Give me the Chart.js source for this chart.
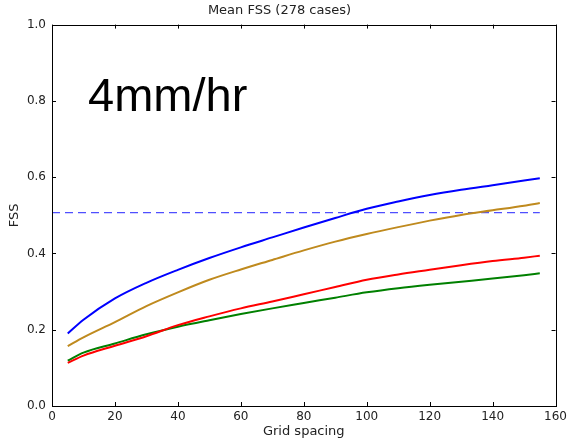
<!DOCTYPE html>
<html>
<head>
<meta charset="utf-8">
<script src="https://cdn.jsdelivr.net/npm/chart.js@4"></script>
<style>
  html, body { margin: 0; padding: 0; background: #fff; }
  #wrap { width: 571px; height: 439px; }
</style>
</head>
<body>
<div id="wrap"><canvas id="chart" width="571" height="439"></canvas></div>
<script>
// grid spacing (x) and mean FSS per curve
const spacing = [5, 10, 20, 30, 40, 50, 60, 70, 80, 90, 100, 110, 120, 130, 140, 150, 155];
const blueFss  = [0.190, 0.226, 0.282, 0.323, 0.357, 0.388, 0.416, 0.442, 0.468, 0.493, 0.517, 0.536, 0.553, 0.567, 0.579, 0.591, 0.597];
const goldFss  = [0.157, 0.180, 0.220, 0.262, 0.298, 0.331, 0.358, 0.383, 0.408, 0.431, 0.451, 0.469, 0.486, 0.501, 0.513, 0.525, 0.532];
const redFss   = [0.113, 0.132, 0.158, 0.183, 0.212, 0.235, 0.256, 0.274, 0.293, 0.312, 0.331, 0.345, 0.357, 0.369, 0.380, 0.389, 0.394];
const greenFss = [0.119, 0.140, 0.164, 0.188, 0.208, 0.225, 0.241, 0.256, 0.270, 0.284, 0.298, 0.309, 0.318, 0.326, 0.334, 0.343, 0.348];
const refX = [0, 155];
const refLevel = 0.507;
const xTicks = [0, 20, 40, 60, 80, 100, 120, 140, 160];
const yTicks = [0, 0.2, 0.4, 0.6, 0.8, 1.0];

function pts(ys) {
    return spacing.map((x, i) => ({ x: x, y: ys[i] }));
}

const font = { family: 'DejaVu Sans', size: 12 };
const titleFont = { family: 'DejaVu Sans', size: 13 };

// frame, inward ticks and the "4mm/hr" label
const framePlugin = {
    id: 'frame',
    afterDatasetsDraw(chart) {
        const ctx = chart.ctx;
        const a = chart.chartArea;
        const xs = chart.scales.x, ys = chart.scales.y;
        ctx.save();
        ctx.strokeStyle = '#000';
        ctx.lineWidth = 1;
        ctx.strokeRect(Math.round(a.left) + 0.5, Math.round(a.top) + 0.5,
                       Math.round(a.right - a.left), Math.round(a.bottom - a.top));
        const len = 4;
        xTicks.forEach(v => {
            const px = Math.round(xs.getPixelForValue(v)) + 0.5;
            ctx.beginPath();
            ctx.moveTo(px, a.bottom); ctx.lineTo(px, a.bottom - len);
            ctx.moveTo(px, a.top); ctx.lineTo(px, a.top + len);
            ctx.stroke();
        });
        yTicks.forEach(v => {
            const py = Math.round(ys.getPixelForValue(v)) + 0.5;
            ctx.beginPath();
            ctx.moveTo(a.left, py); ctx.lineTo(a.left + len, py);
            ctx.moveTo(a.right, py); ctx.lineTo(a.right - len, py);
            ctx.stroke();
        });
        ctx.fillStyle = '#000';
        ctx.font = '47px "Liberation Sans"';
        ctx.textBaseline = 'alphabetic';
        ctx.fillText('4mm/hr', a.left + 36, a.top + 86);
        ctx.restore();
    }
};

const curve = { borderWidth: 2, pointRadius: 0, cubicInterpolationMode: 'monotone' };

new Chart(document.getElementById('chart').getContext('2d'), {
    type: 'line',
    data: {
        datasets: [
            Object.assign({ data: pts(blueFss), borderColor: '#0000ff' }, curve),
            Object.assign({ data: pts(goldFss), borderColor: '#bf8a1e' }, curve),
            Object.assign({ data: pts(redFss), borderColor: '#ff0000' }, curve),
            Object.assign({ data: pts(greenFss), borderColor: '#008000' }, curve),
            {
                data: refX.map(x => ({ x: x, y: refLevel })),
                borderColor: 'rgba(60, 60, 255, 0.9)',
                borderWidth: 1.2,
                borderDash: [8, 5],
                pointRadius: 0
            }
        ]
    },
    options: {
        responsive: false,
        animation: false,
        layout: { padding: { left: 0, right: 12, top: 0, bottom: 0 } },
        plugins: {
            legend: { display: false },
            tooltip: { enabled: false },
            title: {
                display: true,
                text: 'Mean FSS (278 cases)',
                color: '#222',
                font: { family: 'DejaVu Sans', size: 13, weight: 'normal' },
                padding: { top: 3, bottom: 6 }
            }
        },
        scales: {
            x: {
                type: 'linear',
                min: 0,
                max: 160,
                afterBuildTicks: s => { s.ticks = xTicks.map(v => ({ value: v })); },
                afterFit: s => { s.height = 33; },
                grid: { display: false, drawTicks: false },
                border: { display: false },
                ticks: { color: '#222', font: font, padding: 4, maxRotation: 0 },
                title: { display: true, text: 'Grid spacing', color: '#222', font: titleFont, padding: 0 }
            },
            y: {
                min: 0,
                max: 1,
                afterBuildTicks: s => { s.ticks = yTicks.map(v => ({ value: v })); },
                afterFit: s => { s.width = 52; },
                grid: { display: false, drawTicks: false },
                border: { display: false },
                ticks: { color: '#222', font: font, padding: 6, callback: v => v.toFixed(1) },
                title: { display: true, text: 'FSS', color: '#222', font: titleFont, padding: { top: 7, bottom: 0 } }
            }
        }
    },
    plugins: [framePlugin]
});
</script>
</body>
</html>
